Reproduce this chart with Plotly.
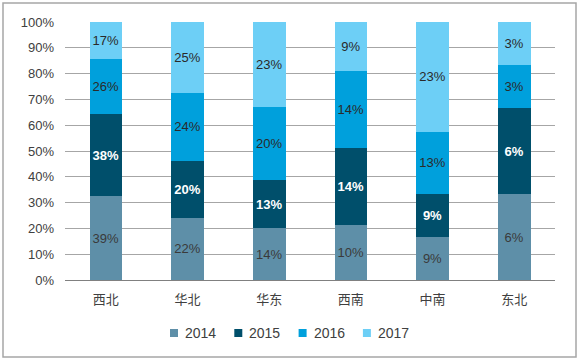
import plotly.graph_objects as go

categories = ["西北", "华北", "华东", "西南", "中南", "东北"]
series_names = ["2014", "2015", "2016", "2017"]
v2014 = [39, 22, 14, 10, 9, 6]
v2015 = [38, 20, 13, 14, 9, 6]
v2016 = [26, 24, 20, 14, 13, 3]
v2017 = [17, 25, 23, 9, 23, 3]
values = [v2014, v2015, v2016, v2017]

colors = ["#5E8FA8", "#004F6B", "#00A0DC", "#6DCFF6"]
text_colors = ["#3A3A3A", "#FFFFFF", "#2A2A2A", "#2A2A2A"]
text_weight = ["normal", "bold", "normal", "normal"]

font_family = "Liberation Sans, Arial, Noto Sans CJK SC, sans-serif"

fig = go.Figure()
for name, vals, c, tc, tw in zip(series_names, values, colors, text_colors, text_weight):
    fig.add_trace(go.Bar(
        name=name, x=categories, y=vals,
        marker=dict(color=c, line=dict(width=0)),
        text=[f"{v}%" for v in vals],
        textposition="inside", insidetextanchor="middle",
        textfont=dict(color=tc, size=13, family=font_family, weight=tw),
        hoverinfo="skip",
    ))

W, H = 580, 363
ml, mr, mt, mb = 65, 25, 22, 83
pw, ph = W - ml - mr, H - mt - mb

def px_x(x):
    return (x - ml) / pw

def px_y(y):
    return (H - mb - y) / ph

# custom compact legend (square + label), built from series names / colours
shapes = [dict(type="rect", xref="paper", yref="paper",
               x0=px_x(3), x1=px_x(576), y0=px_y(357), y1=px_y(3),
               line=dict(color="#A6A6A6", width=1.5), fillcolor="rgba(0,0,0,0)", layer="below")]
annotations = []
leg_x0, leg_step, leg_y = 170, 64.3, 333
for i, (name, c) in enumerate(zip(series_names, colors)):
    sx = leg_x0 + leg_step * i
    shapes.append(dict(type="rect", xref="paper", yref="paper",
                       x0=px_x(sx), x1=px_x(sx + 8), y0=px_y(leg_y + 4), y1=px_y(leg_y - 4),
                       line=dict(width=0), fillcolor=c))
    annotations.append(dict(xref="paper", yref="paper", x=px_x(sx + 13), y=px_y(leg_y),
                            xanchor="left", yanchor="middle", showarrow=False, text=name,
                            font=dict(size=14, color="#404040", family=font_family)))

fig.update_layout(
    width=W, height=H,
    barmode="stack", barnorm="percent", bargap=0.6,
    margin=dict(l=ml, r=mr, t=mt, b=mb),
    paper_bgcolor="white", plot_bgcolor="white",
    font=dict(family=font_family, color="#404040", size=12),
    showlegend=False,
    xaxis=dict(showgrid=False, showline=True, linecolor="#808080", linewidth=1,
               tickfont=dict(size=13, color="#404040", family="Noto Sans CJK SC"), ticks="",
               ticklabelstandoff=7),
    yaxis=dict(range=[0, 100], dtick=10, ticksuffix="%", showgrid=True,
               gridcolor="#A6A6A6", gridwidth=1, zeroline=False, showline=False,
               tickfont=dict(size=13, color="#404040"), ticks="", ticklabelstandoff=10),
    shapes=shapes,
    annotations=annotations,
)

fig.write_html("out.html", config={"displayModeBar": False},
               post_script="document.body.style.margin='0px';")
